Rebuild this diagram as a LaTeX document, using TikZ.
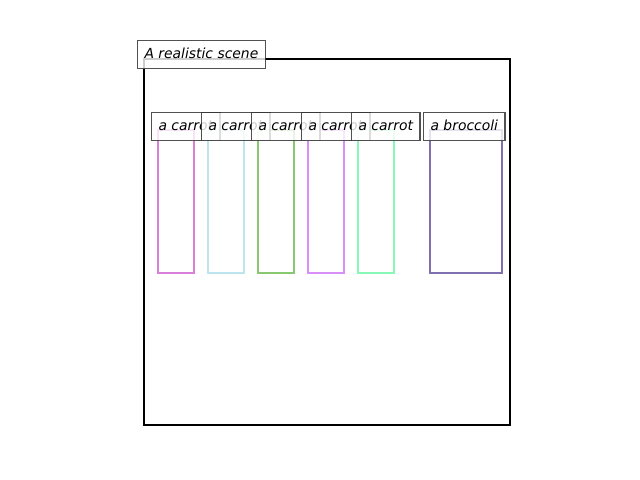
\documentclass[tikz,border=0pt]{standalone}
\usepackage{fontspec}
\setmainfont{DejaVu Sans}
\begin{document}
\begin{tikzpicture}[x=0.72pt,y=-0.72pt,
  lbl/.style={draw=black!80,draw opacity=0.85,fill=white,fill opacity=0.8,text opacity=1,
    line width=0.8pt,anchor=north west,inner xsep=5.04pt,inner ysep=5.2pt,
    text height=7.6pt,text depth=2.2pt,font=\itshape\fontsize{10}{12}\selectfont},
  obj/.style={line width=1.6pt}]
\useasboundingbox (0,0) rectangle (640,480);
\definecolor{c1}{RGB}{218,128,218}
\definecolor{c2}{RGB}{190,228,238}
\definecolor{c3}{RGB}{136,200,112}
\definecolor{c4}{RGB}{216,144,248}
\definecolor{c5}{RGB}{136,248,184}
\definecolor{c6}{RGB}{128,112,176}
\draw[line width=1.8pt] (144,59) rectangle (510,425);
\draw[obj,draw=c1] (158,130) rectangle (194,273);
\draw[obj,draw=c2] (208,130) rectangle (244,273);
\draw[obj,draw=c3] (258,130) rectangle (294,273);
\draw[obj,draw=c4] (308,130) rectangle (344,273);
\draw[obj,draw=c5] (358,130) rectangle (394,273);
\draw[obj,draw=c6] (430,130) rectangle (502,273);
\node[lbl] (t) at (137,40) {A realistic scene};
\node[lbl] (l1) at (151,112) {a carrot};
\node[lbl] (l2) at (201,112) {a carrot};
\node[lbl] (l3) at (251,112) {a carrot};
\node[lbl] (l4) at (301,112) {a carrot};
\node[lbl] (l5) at (351,112) {a carrot};
\node[lbl] (l6) at (423,112) {a broccoli};
\end{tikzpicture}
\end{document}
